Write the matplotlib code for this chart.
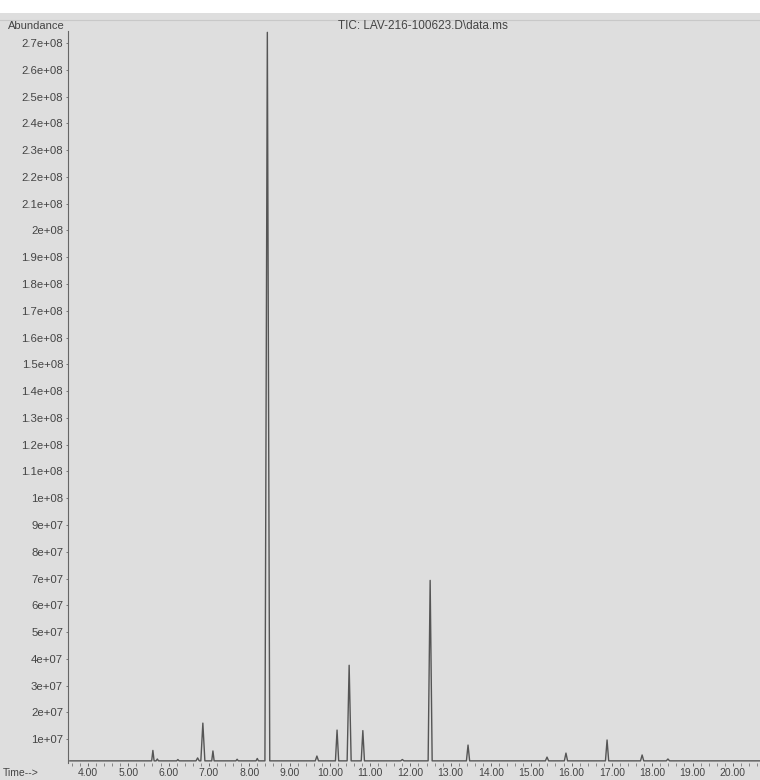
"""TIC chromatogram redraw (ChemStation-style scan)."""
import matplotlib
matplotlib.use("Agg")
import matplotlib.pyplot as plt
from matplotlib.patches import Rectangle
from matplotlib.ticker import FixedLocator, MultipleLocator, FuncFormatter

plt.rcParams["font.family"] = ["Liberation Sans", "DejaVu Sans"]

# peaks: retention time (min), apex abundance, half width (min)
peak_time = [5.61, 5.72, 6.23, 6.72, 6.85, 7.10, 7.70, 8.20, 8.45, 9.68, 10.18,
             10.48, 10.82, 11.80, 12.49, 13.43, 15.39, 15.86, 16.88, 17.75, 18.39]
peak_height = [5.8e6, 2.6e6, 2.4e6, 3.0e6, 1.6e7, 5.6e6, 2.5e6, 2.8e6, 2.74e8, 3.7e6, 1.34e7,
               3.76e7, 1.32e7, 2.4e6, 6.93e7, 7.8e6, 3.3e6, 4.8e6, 9.7e6, 4.1e6, 2.6e6]
peak_halfwidth = [0.03, 0.03, 0.03, 0.04, 0.05, 0.03, 0.03, 0.03, 0.06, 0.04, 0.04,
                  0.05, 0.04, 0.04, 0.05, 0.04, 0.04, 0.04, 0.04, 0.04, 0.04]
baseline = 1.9e6
run_start, run_end = 3.55, 20.8

time_ticks = [4, 5, 6, 7, 8, 9, 10, 11, 12, 13, 14, 15, 16, 17, 18, 19, 20]
abundance_ticks = [1e7 * k for k in range(1, 28)]

# polyline: baseline -> apex -> baseline for each peak
xs, ys = [run_start], [baseline]
for t, h, w in zip(peak_time, peak_height, peak_halfwidth):
    xs += [t - w, t, t + w]
    ys += [baseline, h, baseline]
xs.append(run_end)
ys.append(baseline)

fig = plt.figure(figsize=(7.6, 7.8), dpi=100, facecolor="#dedede")
fig.patches.append(Rectangle((0, 1 - 13 / 780), 1, 13 / 780, transform=fig.transFigure,
                             facecolor="white", edgecolor="none", zorder=0))
fig.lines.append(plt.Line2D([0, 1], [1 - 20 / 780] * 2, transform=fig.transFigure,
                            color="#c8c8c8", lw=0.8))

ax = fig.add_axes([68 / 760, 17 / 780, 1 - 68 / 760, (763 - 31) / 780])
ax.set_facecolor("#dedede")
ax.plot(xs, ys, color="#555555", lw=1.0)

ax.set_xlim(4 - 20 / 40.3, 4 + (760 - 88) / 40.3)
ax.set_ylim(1.1e6, 2.745e8)

for s in ("top", "right"):
    ax.spines[s].set_visible(False)
ax.spines["left"].set_color("#666666")
ax.spines["bottom"].set_visible(False)

ax.xaxis.set_major_locator(FixedLocator(time_ticks))
ax.xaxis.set_minor_locator(MultipleLocator(0.2))
ax.xaxis.set_major_formatter(FuncFormatter(lambda v, p: f"{v:.2f}"))
ax.tick_params(axis="x", which="major", length=2.5, width=0.7, color="#666666",
               labelsize=7.5, labelcolor="#444444", pad=1)
ax.tick_params(axis="x", which="minor", length=2, width=0.6, color="#777777")

ax.yaxis.set_major_locator(FixedLocator(abundance_ticks))
ax.yaxis.set_major_formatter(FuncFormatter(lambda v, p: f"{v:g}"))
ax.tick_params(axis="y", length=1.5, width=0.6, color="#666666",
               labelsize=8.2, labelcolor="#444444", pad=2)

fig.text(8 / 760, 1 - 26 / 780, "Abundance", fontsize=8, color="#444444", va="center")
fig.text(423 / 760, 1 - 26 / 780, "TIC: LAV-216-100623.D\\data.ms", fontsize=8.5,
         color="#444444", ha="center", va="center")
fig.text(3 / 760, 1 - 773 / 780, "Time-->", fontsize=7.5, color="#444444", va="center")

fig.savefig("out.png", dpi=100, facecolor=fig.get_facecolor())
